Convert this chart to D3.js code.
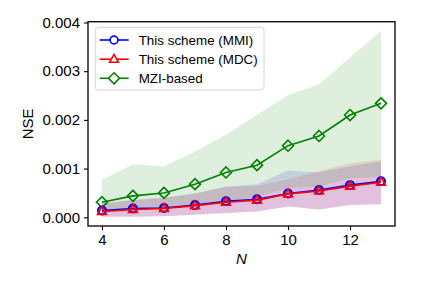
<!DOCTYPE html>
<html>
<head>
<meta charset="utf-8">
<script src="https://cdn.jsdelivr.net/npm/d3@7"></script>
<style>
  body { margin: 0; background: #fff; }
  text { font-family: "Liberation Sans", Arial, sans-serif; }
</style>
</head>
<body>
<script>
// NSE vs N, three schemes with min/max bands
var w = 436, h = 285;

var nVals = [4, 5, 6, 7, 8, 9, 10, 11, 12, 13];
var mmi = [0.00014, 0.00018, 0.00019, 0.00025, 0.00033, 0.00037, 0.00049, 0.00056, 0.00066, 0.00074];
var mdc = [0.00012, 0.00016, 0.00018, 0.00024, 0.00031, 0.00035, 0.00048, 0.00054, 0.00064, 0.00072];
var mzi = [0.00031, 0.00044, 0.00050, 0.00068, 0.00092, 0.00107, 0.00147, 0.00167, 0.00210, 0.00234];

var mmiLow  = [0.00001, 0.00001, 0.00002, 0.00005, 0.00009, 0.00012, 0.00022, 0.00016, 0.00025, 0.00027];
var mmiHigh = [0.00029, 0.00036, 0.00040, 0.00049, 0.00063, 0.00068, 0.00096, 0.00092, 0.00105, 0.00115];
var mdcLow  = [0.00001, 0.00001, 0.00002, 0.00005, 0.00009, 0.00012, 0.00022, 0.00016, 0.00025, 0.00027];
var mdcHigh = [0.00028, 0.00035, 0.00040, 0.00049, 0.00062, 0.00064, 0.00078, 0.00095, 0.00111, 0.00118];
var mziLow  = [0.00010, 0.00014, 0.00018, 0.00024, 0.00032, 0.00042, 0.00060, 0.00063, 0.00080, 0.00083];
var mziHigh = [0.00077, 0.00109, 0.00105, 0.00135, 0.00170, 0.00210, 0.00251, 0.00273, 0.00328, 0.00383];

var yTicks = [0, 0.001, 0.002, 0.003, 0.004];
var xTicks = [4, 6, 8, 10, 12];
var names = ["This scheme (MMI)", "This scheme (MDC)", "MZI-based"];

// plot box (window.top is reserved, so use other names)
var pL = 88, pR = 395, pT = 21.7, pB = 226;

var x = d3.scaleLinear().domain([3.55, 13.45]).range([pL, pR]);
var y = d3.scaleLinear().domain([-0.000179, 0.004016]).range([pB, pT]);

var svg = d3.select("body").append("svg")
  .attr("width", w)
  .attr("height", h);

var series = [
  { mean: mmi, lo: mmiLow, hi: mmiHigh, color: "#0000ff", marker: "circle" },
  { mean: mdc, lo: mdcLow, hi: mdcHigh, color: "#ff0000", marker: "triangle" },
  { mean: mzi, lo: mziLow, hi: mziHigh, color: "#008000", marker: "diamond" }
];

// bands
var area = d3.area()
  .x(function(d) { return x(d.n); })
  .y0(function(d) { return y(d.lo); })
  .y1(function(d) { return y(d.hi); });

series.forEach(function(s) {
  var pts = nVals.map(function(n, i) { return { n: n, lo: s.lo[i], hi: s.hi[i] }; });
  svg.append("path")
    .attr("d", area(pts))
    .attr("fill", s.color)
    .attr("fill-opacity", 0.13)
    .attr("stroke", "none");
});

function markerPath(type) {
  if (type == "circle") return d3.symbol().type(d3.symbolCircle).size(48)();
  if (type == "triangle") return "M0,-4.8L4.4,3L-4.4,3Z";
  return "M0,-5.5L5.5,0L0,5.5L-5.5,0Z";
}

var line = d3.line()
  .x(function(d) { return x(d.n); })
  .y(function(d) { return y(d.v); });

// draw green first so blue/red sit on top
[2, 0, 1].forEach(function(k) {
  var s = series[k];
  var pts = nVals.map(function(n, i) { return { n: n, v: s.mean[i] }; });
  svg.append("path")
    .attr("d", line(pts))
    .attr("fill", "none")
    .attr("stroke", s.color)
    .attr("stroke-width", 1.6);
  svg.selectAll(null)
    .data(pts)
    .enter()
    .append("path")
    .attr("transform", function(d) { return "translate(" + x(d.n) + "," + y(d.v) + ")"; })
    .attr("d", markerPath(s.marker))
    .attr("fill", "none")
    .attr("stroke", s.color)
    .attr("stroke-width", k == 0 ? 2.2 : 1.6);
});

// axes
var xAxis = d3.axisBottom(x).tickValues(xTicks).tickSize(4).tickPadding(4);
var yAxis = d3.axisLeft(y).tickValues(yTicks).tickSize(4).tickPadding(4)
  .tickFormat(d3.format(".3f"));

var gx = svg.append("g").attr("transform", "translate(0," + pB + ")").call(xAxis);
var gy = svg.append("g").attr("transform", "translate(" + pL + ",0)").call(yAxis);
[gx, gy].forEach(function(g) {
  g.select(".domain").remove();
  g.selectAll(".tick line").attr("stroke", "#000").attr("stroke-width", 1.1);
  g.selectAll(".tick text")
    .attr("fill", "#000")
    .style("font-size", "15px")
    .style("font-family", "'Liberation Sans', Arial, sans-serif");
});

// frame
svg.append("rect")
  .attr("x", pL).attr("y", pT)
  .attr("width", pR - pL).attr("height", pB - pT)
  .attr("fill", "none")
  .attr("stroke", "#000")
  .attr("stroke-width", 1.3);

// axis labels
svg.append("text")
  .attr("x", (pL + pR) / 2)
  .attr("y", 264)
  .attr("text-anchor", "middle")
  .style("font-size", "15px")
  .style("font-style", "italic")
  .text("N");

svg.append("text")
  .attr("transform", "translate(32.5," + ((pT + pB) / 2) + ") rotate(-90)")
  .attr("text-anchor", "middle")
  .style("font-size", "15px")
  .text("NSE");

// legend
var lg = svg.append("g");
lg.append("rect")
  .attr("x", 95.3).attr("y", 27.3)
  .attr("width", 168.7).attr("height", 62.7)
  .attr("rx", 3)
  .attr("fill", "#fff")
  .attr("fill-opacity", 0.8)
  .attr("stroke", "#d6d6d6")
  .attr("stroke-width", 1);

var rowY = [40, 59.2, 78.3];
series.forEach(function(s, i) {
  lg.append("line")
    .attr("x1", 99.7).attr("x2", 128.7)
    .attr("y1", rowY[i]).attr("y2", rowY[i])
    .attr("stroke", s.color)
    .attr("stroke-width", 1.6);
  lg.append("path")
    .attr("transform", "translate(114," + rowY[i] + ")")
    .attr("d", markerPath(s.marker))
    .attr("fill", "#fff")
    .attr("stroke", s.color)
    .attr("stroke-width", 1.6);
  lg.append("text")
    .attr("x", 138.7)
    .attr("y", rowY[i] + 4.8)
    .style("font-size", "13.4px")
    .text(names[i]);
});
</script>
</body>
</html>
